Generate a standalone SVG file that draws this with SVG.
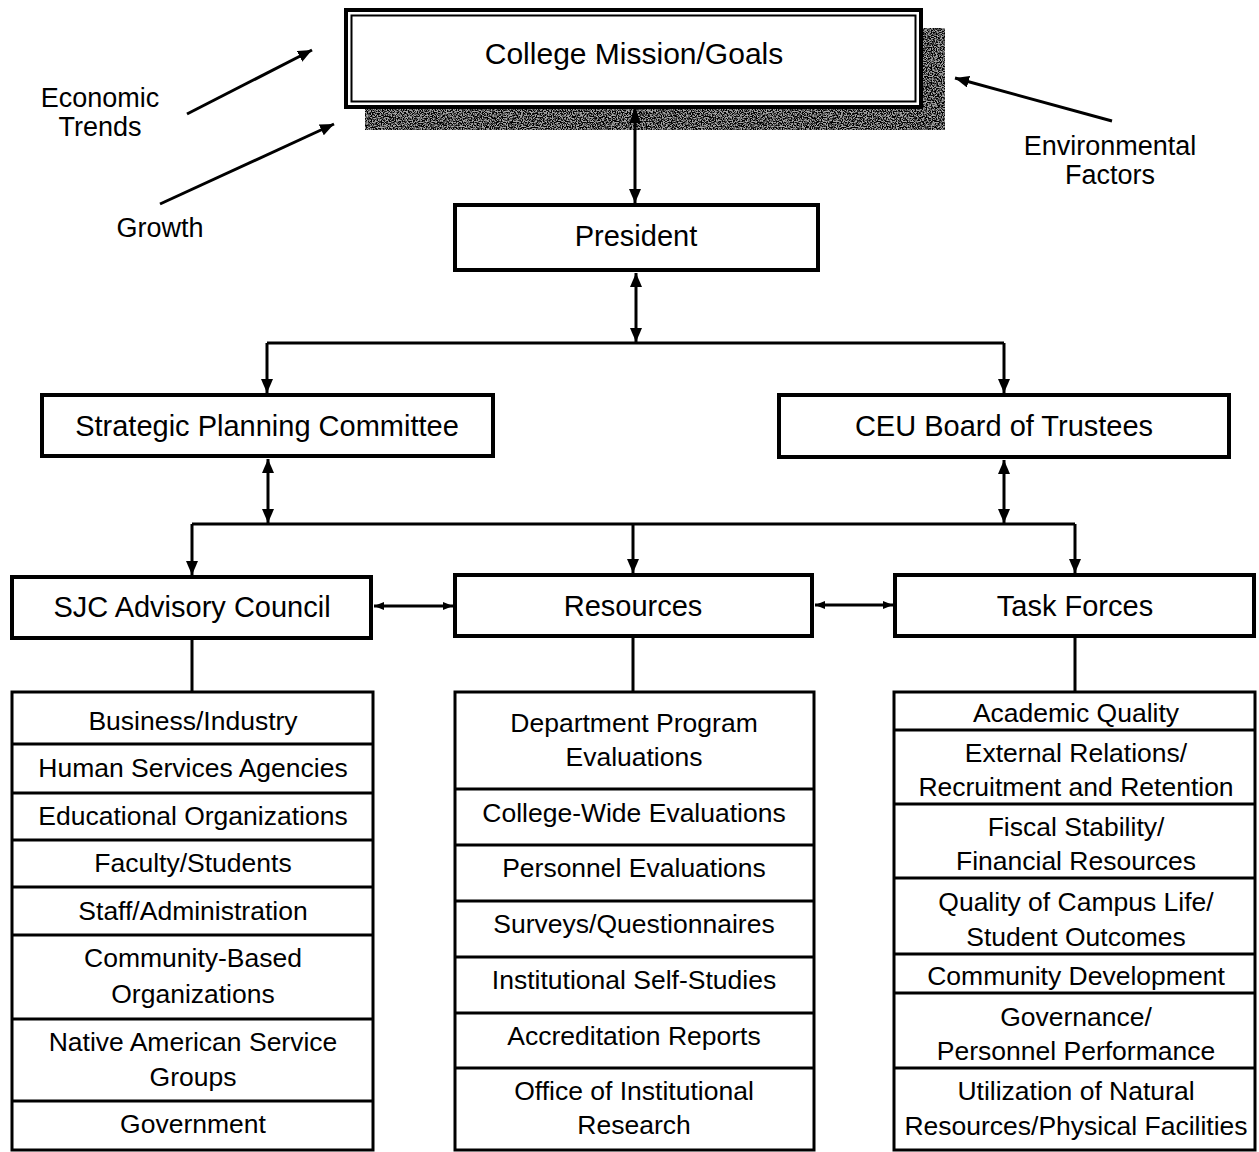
<svg xmlns="http://www.w3.org/2000/svg" width="1259" height="1152" viewBox="0 0 1259 1152">
<style>
text{font-family:"Liberation Sans",Arial,sans-serif;fill:#000;text-anchor:middle}
.h{font-size:29px}
.m{font-size:30px}
.l{font-size:26.5px}
.s{font-size:27px}
.box{fill:#fff;stroke:#000;stroke-width:4}
.list{fill:#fff;stroke:#000;stroke-width:3}
.sep{stroke:#000;stroke-width:3}
.c{stroke:#000;stroke-width:3;fill:none}
.a2{marker-start:url(#ah);marker-end:url(#ah)}
.a1{marker-end:url(#ah)}
.as{marker-start:url(#ahs);marker-end:url(#ahs)}
</style>
<defs>
<marker id="ah" viewBox="0 0 14 12" refX="14" refY="6" markerWidth="14" markerHeight="12" markerUnits="userSpaceOnUse" orient="auto-start-reverse">
<path d="M0,0 L14,6 L0,12 z" fill="#000"/>
</marker>
<marker id="ahs" viewBox="0 0 10 8" refX="10" refY="4" markerWidth="10" markerHeight="8" markerUnits="userSpaceOnUse" orient="auto-start-reverse">
<path d="M0,0 L10,4 L0,8 z" fill="#000"/>
</marker>
<filter id="grain" x="0" y="0" width="1" height="1" filterUnits="objectBoundingBox">
<feTurbulence type="fractalNoise" baseFrequency="0.8" numOctaves="2" seed="7" result="n"/>
<feColorMatrix in="n" type="matrix" values="0 0 0 0 0  0 0 0 0 0  0 0 0 0 0  5 0 0 0 -2" result="d"/>
<feComposite in="d" in2="SourceGraphic" operator="in"/>
</filter>
</defs>
<rect width="1259" height="1152" fill="#fff"/>

<g id="mission">
<rect x="365" y="28" width="580" height="102" fill="#a4a4a4"/>
<rect x="365" y="28" width="580" height="102" fill="#000" filter="url(#grain)"/>
<rect x="346" y="10" width="575" height="97" fill="#fff" stroke="#000" stroke-width="4"/>
<rect x="351.5" y="15.5" width="564" height="86" fill="none" stroke="#000" stroke-width="2"/>
<text class="m" x="634" y="64">College Mission/Goals</text>
</g>

<g id="economic"><text class="s" x="100" y="106.7">Economic</text><text class="s" x="100" y="135.7">Trends</text></g>
<g id="growth"><text class="s" x="160" y="236.7">Growth</text></g>
<g id="environmental"><text class="s" x="1110" y="154.7">Environmental</text><text class="s" x="1110" y="183.7">Factors</text></g>

<g id="president"><rect class="box" x="455" y="205" width="363" height="65"/><text class="h" x="636" y="245.5">President</text></g>
<g id="strategic"><rect class="box" x="42" y="395" width="451" height="61"/><text class="h" x="267" y="435.5">Strategic Planning Committee</text></g>
<g id="ceu"><rect class="box" x="779" y="395" width="450" height="62"/><text class="h" x="1004" y="435.5">CEU Board of Trustees</text></g>
<g id="sjc"><rect class="box" x="12" y="577" width="359" height="61"/><text class="h" x="192" y="616.5">SJC Advisory Council</text></g>
<g id="resources"><rect class="box" x="455" y="575" width="357" height="61"/><text class="h" x="633" y="615.5">Resources</text></g>
<g id="taskforces"><rect class="box" x="895" y="575" width="359" height="61"/><text class="h" x="1075" y="615.5">Task Forces</text></g>

<g id="sjc-list">
<rect class="list" x="12" y="692" width="361" height="458"/>
<path class="sep" d="M12,744H373M12,793H373M12,840H373M12,887H373M12,935H373M12,1019H373M12,1101H373"/>
<text class="l" x="193" y="729.5">Business/Industry</text>
<text class="l" x="193" y="776.5">Human Services Agencies</text>
<text class="l" x="193" y="824.5">Educational Organizations</text>
<text class="l" x="193" y="871.5">Faculty/Students</text>
<text class="l" x="193" y="919.5">Staff/Administration</text>
<text class="l" x="193" y="966.5">Community-Based</text>
<text class="l" x="193" y="1002.5">Organizations</text>
<text class="l" x="193" y="1050.5">Native American Service</text>
<text class="l" x="193" y="1085.5">Groups</text>
<text class="l" x="193" y="1132.5">Government</text>
</g>

<g id="resources-list">
<rect class="list" x="455" y="692" width="359" height="458"/>
<path class="sep" d="M455,789H814M455,845H814M455,901H814M455,957H814M455,1013H814M455,1068H814"/>
<text class="l" x="634" y="731.5">Department Program</text>
<text class="l" x="634" y="765.5">Evaluations</text>
<text class="l" x="634" y="821.5">College-Wide Evaluations</text>
<text class="l" x="634" y="876.5">Personnel Evaluations</text>
<text class="l" x="634" y="932.5">Surveys/Questionnaires</text>
<text class="l" x="634" y="988.5">Institutional Self-Studies</text>
<text class="l" x="634" y="1044.5">Accreditation Reports</text>
<text class="l" x="634" y="1099.5">Office of Institutional</text>
<text class="l" x="634" y="1133.5">Research</text>
</g>

<g id="taskforces-list">
<rect class="list" x="894" y="692" width="361" height="458"/>
<path class="sep" d="M894,730H1255M894,804H1255M894,878H1255M894,954H1255M894,993H1255M894,1068H1255"/>
<text class="l" x="1076" y="721.5">Academic Quality</text>
<text class="l" x="1076" y="761.5">External Relations/</text>
<text class="l" x="1076" y="795.5">Recruitment and Retention</text>
<text class="l" x="1076" y="835.5">Fiscal Stability/</text>
<text class="l" x="1076" y="869.5">Financial Resources</text>
<text class="l" x="1076" y="910.5">Quality of Campus Life/</text>
<text class="l" x="1076" y="945.5">Student Outcomes</text>
<text class="l" x="1076" y="984.5">Community Development</text>
<text class="l" x="1076" y="1025.5">Governance/</text>
<text class="l" x="1076" y="1059.5">Personnel Performance</text>
<text class="l" x="1076" y="1099.5">Utilization of Natural</text>
<text class="l" x="1076" y="1134.5">Resources/Physical Facilities</text>
</g>

<g id="connectors">
<line class="c a1" x1="187" y1="114" x2="312" y2="50"/>
<line class="c a1" x1="160" y1="204" x2="334" y2="124"/>
<line class="c a1" x1="1112" y1="121" x2="955" y2="78"/>
<line class="c a2" x1="635" y1="109" x2="635" y2="203"/>
<line class="c a2" x1="636" y1="273" x2="636" y2="342"/>
<path class="c" d="M267,343H1004"/>
<line class="c a1" x1="267" y1="343" x2="267" y2="393"/>
<line class="c a1" x1="1004" y1="343" x2="1004" y2="393"/>
<line class="c a2" x1="268" y1="459" x2="268" y2="523"/>
<line class="c a2" x1="1004" y1="460" x2="1004" y2="523"/>
<path class="c" d="M192,524H1075"/>
<line class="c a1" x1="192" y1="524" x2="192" y2="575"/>
<line class="c a1" x1="633" y1="524" x2="633" y2="573"/>
<line class="c a1" x1="1075" y1="524" x2="1075" y2="573"/>
<line class="c as" x1="374" y1="606" x2="453" y2="606"/>
<line class="c as" x1="815" y1="605" x2="893" y2="605"/>
<path class="c" d="M192,640V692M633,638V692M1075,638V692"/>
</g>
</svg>
